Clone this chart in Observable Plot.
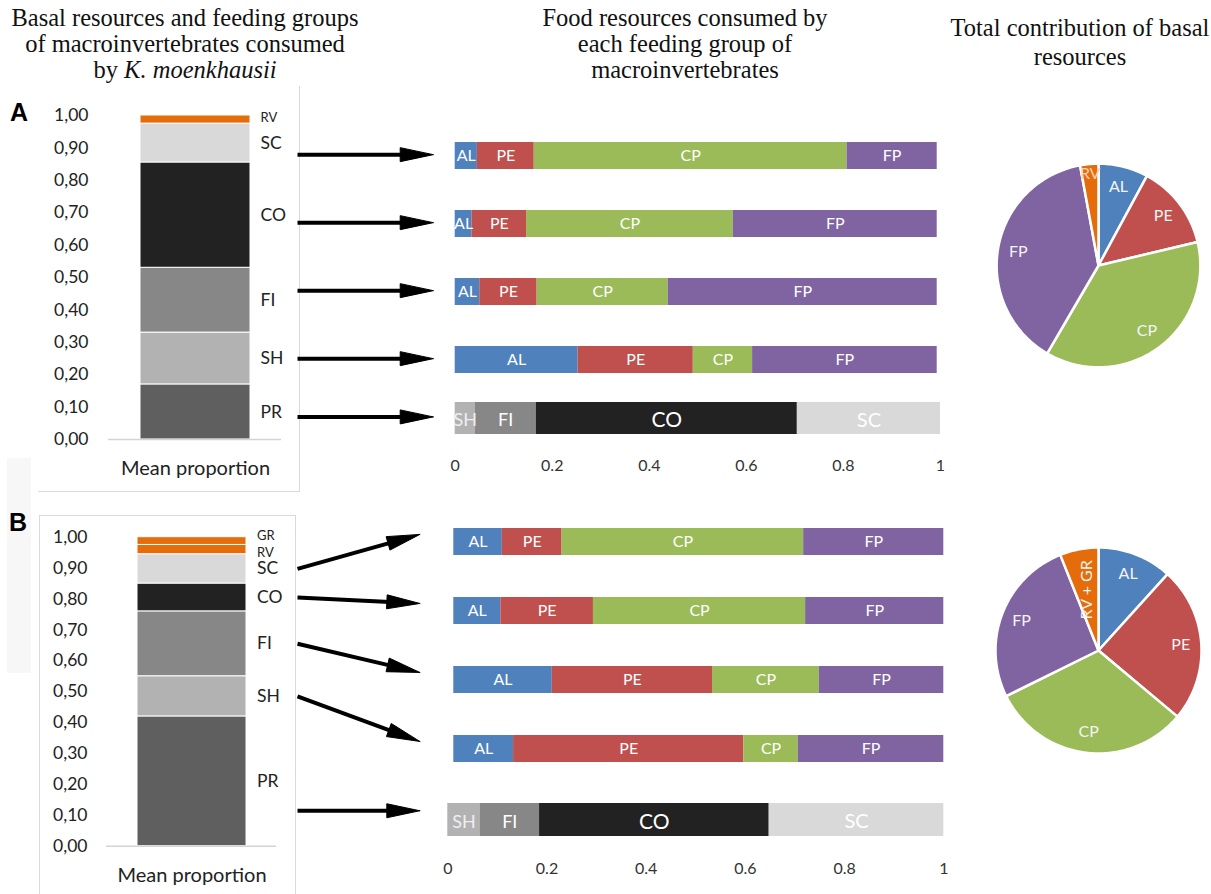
<!DOCTYPE html>
<html><head><meta charset="utf-8">
<script src="https://cdn.jsdelivr.net/npm/d3@7"></script>
<script src="https://cdn.jsdelivr.net/npm/@observablehq/plot@0.6"></script>
<style>
body{margin:0;background:#fff;}
#fig{position:relative;width:1211px;height:894px;overflow:hidden;font-family:Lato,"Open Sans",sans-serif;background:#fff;}
.title{position:absolute;font-family:"Liberation Serif","Times New Roman",serif;font-size:24.5px;line-height:26px;text-align:center;color:#111;white-space:nowrap;}
.panel{position:absolute;font-family:"Liberation Sans",Arial,sans-serif;font-weight:bold;font-size:25px;color:#000;}
.box{position:absolute;border-color:#d9d9d9;border-style:solid;border-width:0;}
</style></head><body><div id="fig"></div><script>
// ---------------- DATA ----------------
const basalGroupsA = ["PR","SH","FI","CO","SC","RV"];
const meanPropA    = [0.17, 0.16, 0.20, 0.325, 0.12, 0.025];
const basalGroupsB = ["PR","SH","FI","CO","SC","RV","GR"];
const meanPropB    = [0.42, 0.13, 0.21, 0.09, 0.095, 0.03, 0.025];

const feedingRows = ["SC","CO","FI","SH"];
const resources   = ["AL","PE","CP","FP"];
// panel A: food resources consumed by each feeding group (AL, PE, CP, FP)
const foodA_SC = [0.046, 0.118, 0.649, 0.187];
const foodA_CO = [0.035, 0.113, 0.429, 0.423];
const foodA_FI = [0.051, 0.119, 0.272, 0.558];
const foodA_SH = [0.255, 0.239, 0.123, 0.383];
// panel B
const foodB_SC = [0.099, 0.122, 0.493, 0.286];
const foodB_CO = [0.096, 0.189, 0.433, 0.282];
const foodB_FI = [0.201, 0.327, 0.218, 0.254];
const foodB_SH = [0.122, 0.470, 0.111, 0.297];
// predators (PR) consume other feeding groups
const prPrey  = ["SH","FI","CO","SC"];
const prFoodA = [0.041, 0.126, 0.538, 0.295];
const prFoodB = [0.065, 0.120, 0.463, 0.352];
// total contribution of basal resources
const pieLabelsA = ["AL","PE","CP","FP","RV"];
const pieA       = [0.079, 0.134, 0.371, 0.387, 0.029];
const pieLabelsB = ["AL","PE","CP","FP","RV + GR"];
const pieB       = [0.117, 0.244, 0.316, 0.2625, 0.0605];
const xTicks = [0, 0.2, 0.4, 0.6, 0.8, 1];
const yTicks = [0, 0.1, 0.2, 0.3, 0.4, 0.5, 0.6, 0.7, 0.8, 0.9, 1];

// ---------------- STYLE ----------------
const colors = {AL:"#4f81bd", PE:"#c0504d", CP:"#9bbb59", FP:"#8064a2", RV:"#e46c0a", GR:"#e46c0a",
  "RV + GR":"#e46c0a", SC:"#d9d9d9", CO:"#222222", FI:"#878787", SH:"#b2b2b2", PR:"#5f5f5f"};
const FONT = "Lato, 'Open Sans', sans-serif";
const fig = document.getElementById("fig");
function place(el, left, top){ el.style.position="absolute"; el.style.left=left+"px"; el.style.top=top+"px"; fig.appendChild(el); return el; }
function div(cls, html, left, top, css){ const d=document.createElement("div"); d.className=cls; d.innerHTML=html; Object.assign(d.style, css||{}); return place(d,left,top); }

// decorations
div("box","",38,86,{width:"261px",height:"405px",borderRightWidth:"1.5px",borderBottomWidth:"1.5px"});
div("box","",39,515,{width:"255px",height:"400px",borderLeftWidth:"1.5px",borderTopWidth:"1.5px",borderRightWidth:"1.5px"});
div("box","",7,458,{width:"24px",height:"215px",background:"#f7f7f7"});

// titles
div("title","Basal resources and feeding groups<br>of macroinvertebrates consumed<br>by <i>K. moenkhausii</i>",0,5,{width:"370px"});
div("title","Food resources consumed by<br>each feeding group of<br>macroinvertebrates",530,5,{width:"310px"});
div("title","Total contribution of basal<br>resources",935,13,{width:"290px",lineHeight:"29px"});
div("panel","A",10,98);
div("panel","B",9,508);

// ---------------- column chart ----------------
function columnChart(groups, values, o){
  let acc = 0;
  const data = groups.map((g,i)=>{ const d={group:g, value:values[i], cat:"Mean proportion", mid:acc+values[i]/2}; acc+=values[i]; return d; });
  const labelMarks = data.map(d=>Plot.text([d],{x:"cat", y:"mid", text:"group", dx:65, dy:(o.dy[d.group]||0),
    textAnchor:"start", fontSize: d.value<0.05?13:17.5, fill:"#222"}));
  return Plot.plot({
    width:300, height:o.height, marginTop:o.mt, marginBottom:o.mb, marginLeft:o.ml, marginRight:o.mr,
    style:{background:"transparent", fontFamily:FONT, color:"#222"},
    x:{type:"band", domain:["Mean proportion"], padding:o.pad},
    y:{domain:[0,1]},
    color:{type:"identity"},
    marks:[
      Plot.barY(data,{x:"cat", y:"value", fill:d=>colors[d.group], stroke:"white", strokeWidth:1}),
      Plot.ruleY([0],{stroke:"#d4d4d4", strokeWidth:1.5}),
      Plot.axisY({ticks:yTicks, tickFormat:d=>d.toFixed(2).replace(".",","), tickSize:0, tickPadding:o.tp, fontSize:17.5, label:null}),
      Plot.axisX({tickSize:0, tickPadding:o.xtp, fontSize:20, label:null}),
      ...labelMarks
    ]
  });
}

// ---------------- horizontal stacked rows ----------------
function rowsChart(rowNames, rowValues, cats, o){
  const data=[];
  rowNames.forEach((r,ri)=>cats.forEach((c,ci)=>data.push({row:r, cat:c, value:rowValues[ri][ci]})));
  const marks=[
    Plot.barX(data, Plot.stackX({y:"row", x:"value", fill:d=>colors[d.cat]})),
    Plot.text(data, Plot.stackX({y:"row", x:"value", text:"cat", fill:d=>(o.tc&&o.tc[d.cat])||"#ffffff",
      fontSize:d=>(o.fs&&o.fs[d.cat])||16, dy:o.tdy||0}))
  ];
  if (o.axis) marks.push(Plot.axisX({ticks:xTicks, tickFormat:d3.format("~g"), tickSize:0, tickPadding:o.xtp, fontSize:16, fill:"#333", label:null}));
  return Plot.plot({
    width:510, height:o.height, marginTop:o.mt, marginBottom:o.mb, marginLeft:o.ml, marginRight:o.mr,
    style:{background:"transparent", fontFamily:FONT},
    color:{type:"identity"},
    x: o.axis ? {domain:[0,1], label:null} : {domain:[0,1], axis:null},
    y:{type:"band", domain:rowNames, paddingInner:o.pi, paddingOuter:0, axis:null},
    marks
  });
}

// ---------------- pie ----------------
function pieChart(labels, values, ext){
  const arcs = d3.pie().sort(null)(values);
  const pts=[], labs=[];
  arcs.forEach((a,i)=>{
    const k=labels[i], n=Math.max(3, Math.ceil((a.endAngle-a.startAngle)/0.02));
    pts.push({k, x:0, y:0});
    for(let j=0;j<=n;j++){ const t=a.startAngle+(a.endAngle-a.startAngle)*j/n; pts.push({k, x:Math.sin(t), y:Math.cos(t)}); }
    pts.push({k, x:0, y:0});
    const m=(a.startAngle+a.endAngle)/2;
    const r = k==="RV + GR" ? 0.6 : (k==="RV" ? 0.9 : 0.8);
    labs.push({k, x:r*Math.sin(m), y:r*Math.cos(m)});
  });
  return Plot.plot({
    width:220, height:220, margin:0,
    style:{background:"transparent", fontFamily:FONT},
    color:{type:"identity"},
    x:{domain:[-ext,ext], axis:null}, y:{domain:[-ext,ext], axis:null},
    marks:[
      Plot.line(pts,{x:"x", y:"y", z:"k", fill:d=>colors[d.k], stroke:"white", strokeWidth:2.5, strokeLinejoin:"round"}),
      Plot.text(labs.filter(d=>d.k!=="RV + GR"),{x:"x", y:"y", text:"k", fill:d=>d.k==="RV"?"#f6d2b4":"#f4f4f4", fontSize:16}),
      Plot.text(labs.filter(d=>d.k==="RV + GR"),{x:"x", y:"y", text:"k", fill:"#f4f4f4", fontSize:16, rotate:-90})
    ]
  });
}

// ---------------- build ----------------
const colA = place(columnChart(basalGroupsA, meanPropA, {height:385, mt:15, mb:46, ml:108, mr:19, pad:0.222, tp:20, xtp:21, dy:{RV:-2}}), 0, 100);
const colB = place(columnChart(basalGroupsB, meanPropB, {height:374, mt:16.7, mb:48.3, ml:106, mr:24, pad:0.219, tp:19, xtp:22, dy:{GR:-5, RV:3}}), 0, 520);

const rowsA = place(rowsChart(feedingRows, [foodA_SC, foodA_CO, foodA_FI, foodA_SH], resources,
  {height:254, mt:10.5, mb:10.5, ml:14.7, mr:13.3, pi:0.607}), 440, 130);
const prA = place(rowsChart(["PR"], [prFoodA], prPrey,
  {height:85, mt:7, mb:46, ml:14.7, mr:10, pi:0, axis:true, xtp:25, tdy:2,
   fs:{SH:18, FI:18, CO:21, SC:20}, tc:{SH:"#efefef", SC:"#ffffff"}}), 440, 395);
const rowsB = place(rowsChart(feedingRows, [foodB_SC, foodB_CO, foodB_FI, foodB_SH], resources,
  {height:254, mt:10, mb:10, ml:13.3, mr:6.7, pi:0.609}), 440, 518);
const prB = place(rowsChart(["PR"], [prFoodB], prPrey,
  {height:90, mt:8, mb:49, ml:7.3, mr:6.7, pi:0, axis:true, xtp:26, tdy:2,
   fs:{SH:18, FI:18, CO:21, SC:20}, tc:{SH:"#efefef", SC:"#ffffff"}}), 440, 795);

place(pieChart(pieLabelsA, pieA, 1.08), 988.3, 155);
place(pieChart(pieLabelsB, pieB, 110/103), 988.3, 540);

// ---------------- arrows (overlay) ----------------
// arrows go from each feeding group of the column chart to its row; "level" arrows are drawn horizontally
function arrowsFor(groups, values, colPlot, colTop, rowsPlot, rowsTop, prPlot, prTop, rowsLeft, gap, frac, level){
  let acc=0; const mids={};
  groups.forEach((g,i)=>{ mids[g]=acc+values[i]/2; acc+=values[i]; });
  const ys=colPlot.scale("y"), ry=rowsPlot.scale("y"), py=prPlot.scale("y");
  const tipX = rowsLeft + rowsPlot.scale("x").apply(0) - gap;
  return feedingRows.concat(["PR"]).map(g=>{
    const y2 = g==="PR" ? prTop + py.apply("PR") + py.bandwidth*frac : rowsTop + ry.apply(g) + ry.bandwidth*frac;
    const y1 = level.includes(g) ? y2 : colTop + ys.apply(mids[g]);
    return {id:g+colTop, x1:297, y1, x2:tipX, y2};
  });
}
const arrows = arrowsFor(basalGroupsA, meanPropA, colA, 100, rowsA, 130, prA, 395, 440, 22, 0.45, ["SC","CO","FI","SH","PR"])
  .concat(arrowsFor(basalGroupsB, meanPropB, colB, 520, rowsB, 518, prB, 795, 440, 34, 0.22, ["PR"]));
const HL=33, HW=7;
const shafts=[], heads=[];
arrows.forEach(a=>{
  const dx=a.x2-a.x1, dy=a.y2-a.y1, L=Math.hypot(dx,dy), ux=dx/L, uy=dy/L, px=-uy, py=ux;
  const bx=a.x2-ux*HL, by=a.y2-uy*HL;
  shafts.push({x1:a.x1, y1:a.y1, x2:bx+ux*3, y2:by+uy*3});
  heads.push({id:a.id, x:a.x2, y:a.y2},{id:a.id, x:bx+px*HW, y:by+py*HW},{id:a.id, x:bx-px*HW, y:by-py*HW},{id:a.id, x:a.x2, y:a.y2});
});
const overlay = Plot.plot({
  width:1211, height:894, margin:0, style:{background:"transparent"},
  x:{type:"identity", axis:null}, y:{type:"identity", axis:null},
  marks:[
    Plot.link(shafts,{x1:"x1", y1:"y1", x2:"x2", y2:"y2", stroke:"#000", strokeWidth:4}),
    Plot.line(heads,{x:"x", y:"y", z:"id", fill:"#000", stroke:"#000", strokeWidth:1, strokeLinejoin:"miter"})
  ]
});
overlay.style.pointerEvents="none";
place(overlay,0,0);
</script></body></html>
